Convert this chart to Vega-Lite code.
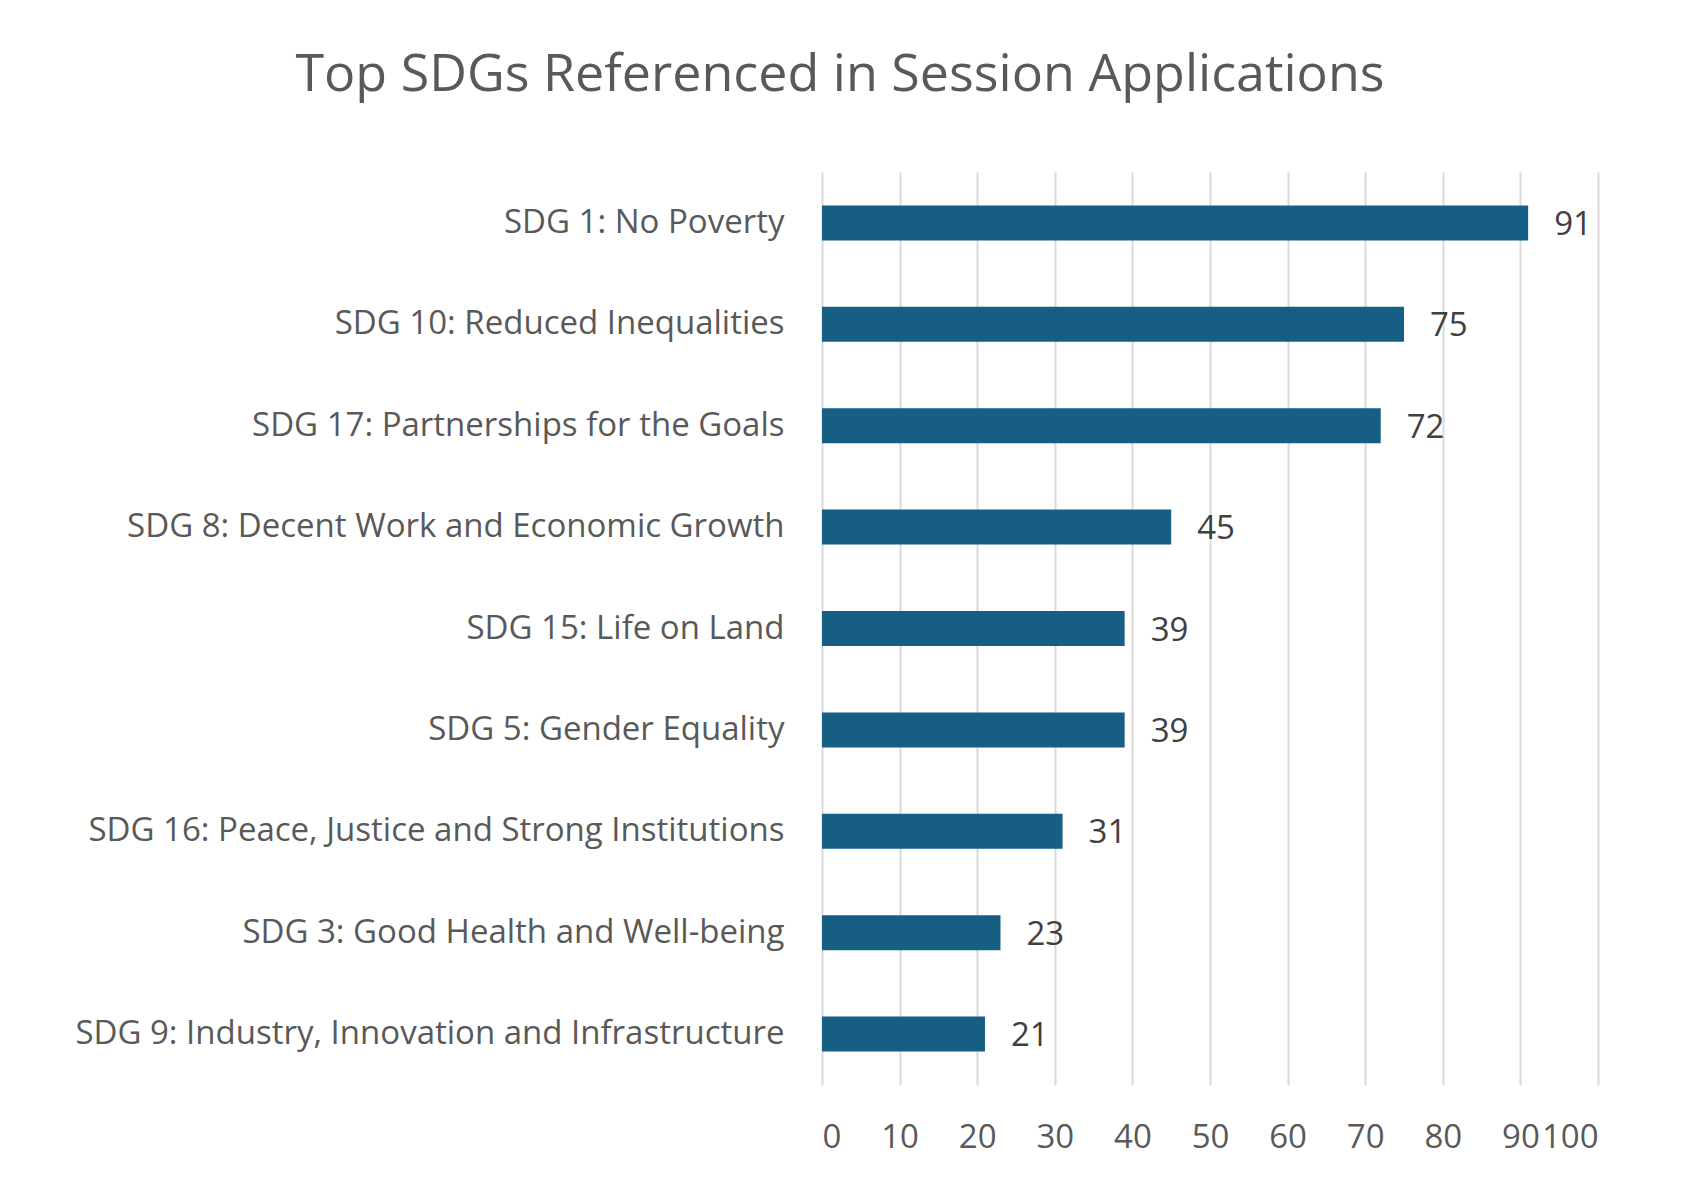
{
  "$schema": "https://vega.github.io/schema/vega-lite/v6.json",
  "autosize": {"type": "none"},
  "width": 776,
  "height": 913,
  "padding": {"left": 822, "top": 172, "right": 84, "bottom": 108},
  "background": "white",
  "title": {"text": "Top SDGs Referenced in Session Applications", "fontSize": 52, "font": "Open Sans", "fontWeight": "normal", "color": "#595959", "anchor": "middle", "dx": -370, "offset": 70},
  "data": {"values": [
    {"sdg": "SDG 1: No Poverty", "count": 91},
    {"sdg": "SDG 10: Reduced Inequalities", "count": 75},
    {"sdg": "SDG 17: Partnerships for the Goals", "count": 72},
    {"sdg": "SDG 8: Decent Work and Economic Growth", "count": 45},
    {"sdg": "SDG 15: Life on Land", "count": 39},
    {"sdg": "SDG 5: Gender Equality", "count": 39},
    {"sdg": "SDG 16: Peace, Justice and Strong Institutions", "count": 31},
    {"sdg": "SDG 3: Good Health and Well-being", "count": 23},
    {"sdg": "SDG 9: Industry, Innovation and Infrastructure", "count": 21}
  ]},
  "encoding": {
    "y": {"field": "sdg", "type": "nominal", "sort": null, "title": null,
      "scale": {"paddingInner": 0.655, "paddingOuter": 0.33},
      "axis": {"labelFontSize": 33, "labelFont": "Open Sans", "labelColor": "#595959", "labelPadding": 38, "ticks": false, "domain": false, "labelLimit": 900}},
    "x": {"field": "count", "type": "quantitative", "title": null,
      "scale": {"domain": [0, 100], "nice": false},
      "axis": {"values": [0,10,20,30,40,50,60,70,80,90,100], "labelFontSize": 33, "labelFont": "Open Sans", "labelColor": "#595959", "labelPadding": 36, "ticks": false, "domain": false, "grid": true, "gridColor": "#d9d9d9", "gridWidth": 2}}
  },
  "layer": [
    {"mark": {"type": "bar", "color": "#165e83"}},
    {"mark": {"type": "text", "align": "left", "dx": 26, "dy": 2, "fontSize": 33, "font": "Open Sans", "color": "#404040"},
     "encoding": {"text": {"field": "count", "type": "quantitative"}}}
  ],
  "config": {"view": {"stroke": null}}
}
